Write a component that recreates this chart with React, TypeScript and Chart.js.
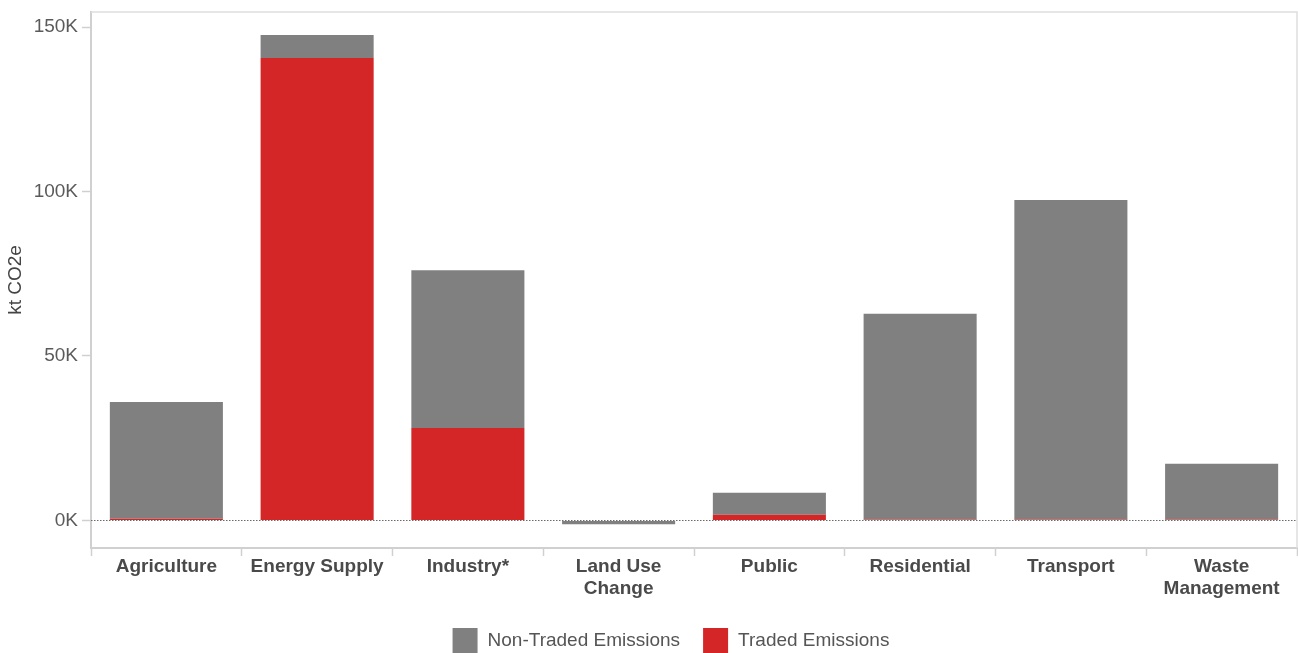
import React, { useEffect, useRef } from "react";
import { Chart, registerables } from "chart.js";

Chart.register(...registerables);

const categories: (string | string[])[] = [
  "Agriculture",
  "Energy Supply",
  "Industry*",
  ["Land Use", "Change"],
  "Public",
  "Residential",
  "Transport",
  ["Waste", "Management"],
];
const tradedEmissions = [500, 140600, 28100, 0, 1700, 300, 300, 300];
const nonTradedEmissions = [35500, 7000, 48000, -1200, 6700, 62500, 97100, 16900];
const yTickValues = [0, 50000, 100000, 150000];
const legendLabels = ["Non-Traded Emissions", "Traded Emissions"];

const GREY = "#808080";
const RED = "#d42627";
const FONT = "'Liberation Sans', Arial, sans-serif";

const framePlugin = {
  id: "frame",
  beforeDatasetsDraw(chart: any) {
    const { ctx, chartArea } = chart;
    ctx.save();
    ctx.strokeStyle = "#dedede";
    ctx.lineWidth = 1.5;
    ctx.beginPath();
    ctx.moveTo(chartArea.left, chartArea.top);
    ctx.lineTo(chartArea.right, chartArea.top);
    ctx.lineTo(chartArea.right, chartArea.bottom);
    ctx.stroke();
    ctx.restore();
  },
  afterDatasetsDraw(chart: any) {
    const { ctx, chartArea } = chart;
    const y = Math.round(chart.scales.y.getPixelForValue(0)) + 0.5;
    ctx.save();
    ctx.strokeStyle = "#6a6a6a";
    ctx.lineWidth = 1.2;
    ctx.setLineDash([1.5, 1.5]);
    ctx.beginPath();
    ctx.moveTo(chartArea.left, y);
    ctx.lineTo(chartArea.right, y);
    ctx.stroke();
    ctx.restore();
  },
  afterDraw(chart: any) {
    const { ctx, chartArea } = chart;
    ctx.save();
    ctx.font = `19px ${FONT}`;
    ctx.textBaseline = "middle";
    const box = 25;
    const gapText = 10;
    const gapItem = 23;
    const colors = [GREY, RED];
    const widths = legendLabels.map((l) => ctx.measureText(l).width);
    const total = widths.reduce((a, w) => a + box + gapText + w, 0) + gapItem;
    let x = (chartArea.left + chartArea.right) / 2 - 23 - total / 2;
    const top = 628;
    legendLabels.forEach((l, i) => {
      ctx.fillStyle = colors[i];
      ctx.fillRect(x, top, box, box);
      ctx.fillStyle = "#555555";
      ctx.fillText(l, x + box + gapText, top + 13);
      x += box + gapText + widths[i] + gapItem;
    });
    ctx.restore();
  },
};

export default function App() {
  const canvasRef = useRef<HTMLCanvasElement | null>(null);

  useEffect(() => {
    document.body.style.margin = "0";
    const canvas = canvasRef.current;
    if (!canvas) return;
    const chart = new Chart(canvas, {
      type: "bar",
      data: {
        labels: categories as any,
        datasets: [
          {
            label: legendLabels[1],
            data: tradedEmissions,
            backgroundColor: RED,
            borderWidth: 0,
            barPercentage: 0.75,
            categoryPercentage: 1,
          },
          {
            label: legendLabels[0],
            data: nonTradedEmissions,
            backgroundColor: GREY,
            borderWidth: 0,
            barPercentage: 0.75,
            categoryPercentage: 1,
          },
        ],
      },
      options: {
        animation: false,
        responsive: false,
        maintainAspectRatio: false,
        layout: { padding: { left: 0, right: 1, top: 12, bottom: 0 } },
        plugins: {
          legend: { display: false },
          tooltip: { enabled: false },
        },
        scales: {
          x: {
            stacked: true,
            afterFit(scale: any) {
              scale.height = 105;
              scale.paddingLeft = 0;
              scale.paddingRight = 0;
            },
            grid: {
              offset: true,
              drawOnChartArea: false,
              tickLength: 8,
              tickColor: "#d0d0d0",
              tickWidth: 1.5,
            },
            border: { color: "#d0d0d0", width: 2 },
            ticks: {
              color: "#4a4a4a",
              font: { family: FONT, size: 19, weight: "bold", lineHeight: 1.16 },
              padding: 0,
              maxRotation: 0,
              autoSkip: false,
            },
          },
          y: {
            stacked: true,
            min: -8400,
            max: 154600,
            afterFit(scale: any) {
              scale.width = 91;
              scale.paddingTop = 0;
              scale.paddingBottom = 0;
            },
            afterBuildTicks(scale: any) {
              scale.ticks = yTickValues.map((v) => ({ value: v }));
            },
            grid: {
              drawOnChartArea: false,
              tickLength: 9,
              tickColor: "#d0d0d0",
              tickWidth: 1.5,
            },
            border: { color: "#d0d0d0", width: 2 },
            ticks: {
              color: "#5a5a5a",
              font: { family: FONT, size: 19 },
              padding: 4,
              callback: (v: any) => `${Number(v) / 1000}K`,
            },
            title: {
              display: true,
              text: "kt CO2e",
              color: "#444444",
              font: { family: FONT, size: 19 },
              padding: { top: 4, bottom: 0 },
            },
          },
        },
      },
      plugins: [framePlugin],
    });
    return () => chart.destroy();
  }, []);

  return (
    <div style={{ width: 1298, height: 653 }}>
      <canvas ref={canvasRef} width={1298} height={653} style={{ display: "block" }} />
    </div>
  );
}
